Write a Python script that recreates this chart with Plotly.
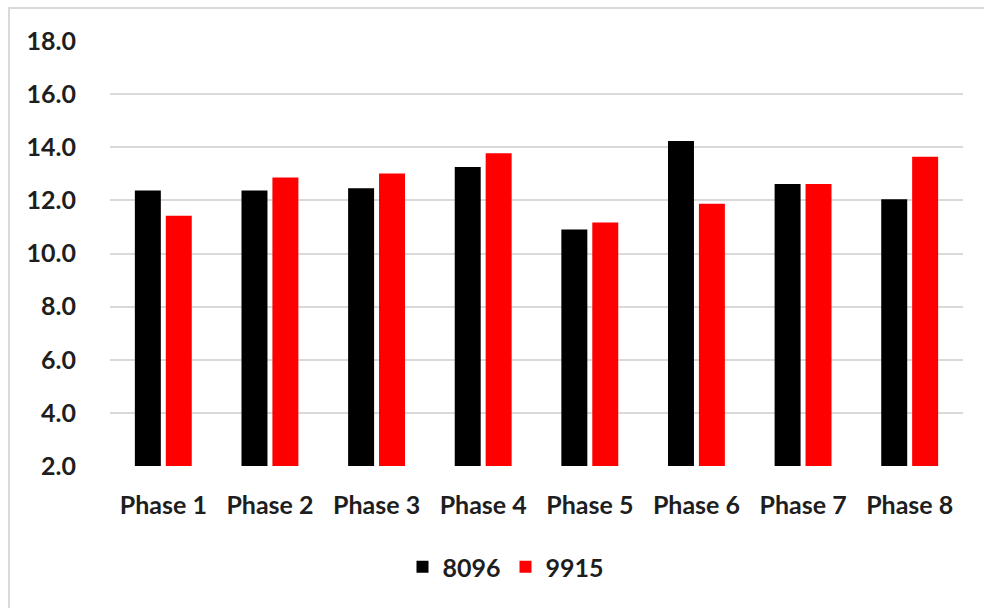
import plotly.graph_objects as go

# Phase labels and the two series
phases = ["Phase 1", "Phase 2", "Phase 3", "Phase 4",
          "Phase 5", "Phase 6", "Phase 7", "Phase 8"]
series_8096 = [12.37, 12.37, 12.46, 13.26, 10.90, 14.24, 12.62, 12.04]
series_9915 = [11.42, 12.86, 13.01, 13.77, 11.17, 11.87, 12.62, 13.64]

y_ticks = [2, 4, 6, 8, 10, 12, 14, 16, 18]
y_tick_text = ["2.0", "4.0", "6.0", "8.0", "10.0", "12.0", "14.0", "16.0", "18.0"]

W, H = 984, 608
ML, MR, MT, MB = 110, 21, 41, 142
PW, PH = W - ML - MR, H - MT - MB

font = dict(family="Lato, 'Open Sans', sans-serif", size=25, color="#1e1e1e", weight="bold")

fig = go.Figure()
fig.add_trace(go.Bar(name="8096", x=phases, y=series_8096, base=0,
                     marker=dict(color="#000000", line=dict(width=0))))
fig.add_trace(go.Bar(name="9915", x=phases, y=series_9915, base=0,
                     marker=dict(color="#ff0000", line=dict(width=0))))

def px_x(p):
    return (p - ML) / PW

def px_y(p):
    return (H - MB - p) / PH

fig.update_layout(
    width=W, height=H,
    margin=dict(l=ML, r=MR, t=MT, b=MB),
    paper_bgcolor="#ffffff", plot_bgcolor="#ffffff",
    barmode="group", bargap=0.42, bargroupgap=0.16,
    font=font,
    showlegend=True,
    legend=dict(orientation="h", xanchor="center", yanchor="middle",
                x=px_x(506), y=px_y(567), font=font,
                bgcolor="rgba(0,0,0,0)", itemwidth=30, tracegroupgap=0),
    xaxis=dict(showgrid=False, showline=False, zeroline=False,
               ticks="", ticklabelstandoff=22, tickfont=font),
    yaxis=dict(range=[2, 18], tickvals=y_ticks, ticktext=y_tick_text,
               showgrid=True, gridcolor="#d9d9d9", gridwidth=2,
               zeroline=False, showline=False, ticks="",
               ticklabelstandoff=33, tickfont=font),
    shapes=[dict(type="rect", xref="paper", yref="paper",
                 x0=px_x(9), y0=px_y(620), x1=px_x(995), y1=px_y(8),
                 line=dict(color="#d9d9d9", width=2), fillcolor="rgba(0,0,0,0)",
                 layer="below")],
)

fig.write_html("out.html")
